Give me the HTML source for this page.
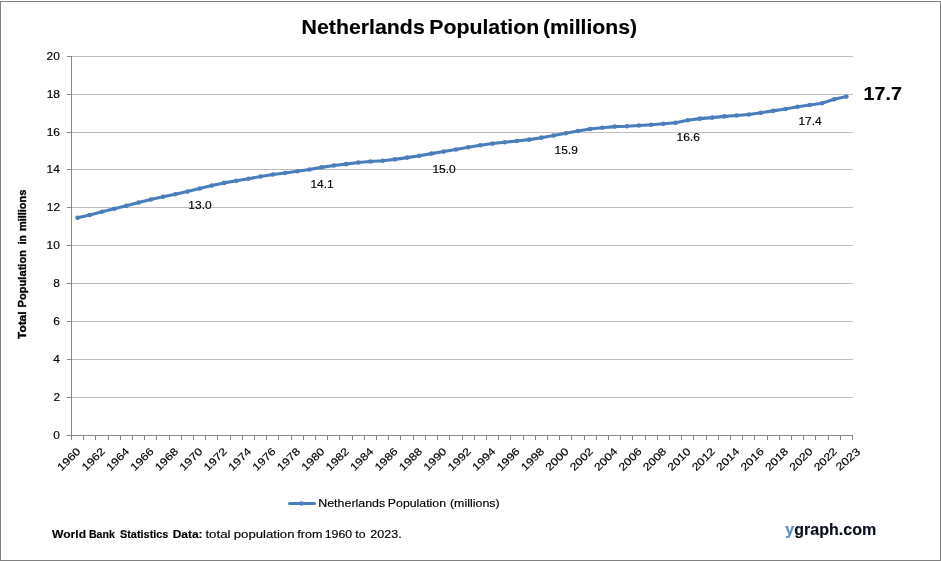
<!DOCTYPE html>
<html><head><meta charset="utf-8"><title>Netherlands Population (millions)</title>
<style>
html,body{margin:0;padding:0;background:#fff;}
body{width:941px;height:561px;overflow:hidden;font-family:"Liberation Sans",sans-serif;}
svg{display:block;will-change:transform;}
text{font-family:"Liberation Sans",sans-serif;fill:#000000;stroke:#000000;stroke-width:0.15px;}
.b{font-weight:bold;}
</style></head><body>
<svg width="941" height="561" viewBox="0 0 941 561">
<rect x="0" y="0" width="941" height="561" fill="#ffffff"/>
<rect x="0.5" y="1.5" width="940" height="559" fill="none" stroke="#808080" stroke-width="1"/>

<rect x="72" y="397" width="781" height="1" fill="#bdbdbd"/>
<rect x="72" y="359" width="781" height="1" fill="#bdbdbd"/>
<rect x="72" y="321" width="781" height="1" fill="#bdbdbd"/>
<rect x="72" y="283" width="781" height="1" fill="#bdbdbd"/>
<rect x="72" y="245" width="781" height="1" fill="#bdbdbd"/>
<rect x="72" y="207" width="781" height="1" fill="#bdbdbd"/>
<rect x="72" y="169" width="781" height="1" fill="#bdbdbd"/>
<rect x="72" y="132" width="781" height="1" fill="#bdbdbd"/>
<rect x="72" y="94" width="781" height="1" fill="#bdbdbd"/>
<rect x="72" y="56" width="781" height="1" fill="#bdbdbd"/>
<rect x="71" y="56" width="1" height="384" fill="#868686"/>
<rect x="67" y="435" width="786" height="1" fill="#868686"/>
<rect x="67" y="435" width="5" height="1" fill="#868686"/>
<text transform="translate(53.27,439.10) scale(1.1300,1)" font-size="10.6">0</text>
<rect x="67" y="397" width="5" height="1" fill="#868686"/>
<text transform="translate(53.45,401.10) scale(1.1300,1)" font-size="10.6">2</text>
<rect x="67" y="359" width="5" height="1" fill="#868686"/>
<text transform="translate(53.21,363.10) scale(1.1300,1)" font-size="10.6">4</text>
<rect x="67" y="321" width="5" height="1" fill="#868686"/>
<text transform="translate(53.33,325.10) scale(1.1300,1)" font-size="10.6">6</text>
<rect x="67" y="283" width="5" height="1" fill="#868686"/>
<text transform="translate(53.33,287.10) scale(1.1300,1)" font-size="10.6">8</text>
<rect x="67" y="245" width="5" height="1" fill="#868686"/>
<text transform="translate(46.62,249.10) scale(1.1300,1)" font-size="10.6">10</text>
<rect x="67" y="207" width="5" height="1" fill="#868686"/>
<text transform="translate(46.80,211.10) scale(1.1300,1)" font-size="10.6">12</text>
<rect x="67" y="169" width="5" height="1" fill="#868686"/>
<text transform="translate(46.56,173.10) scale(1.1300,1)" font-size="10.6">14</text>
<rect x="67" y="132" width="5" height="1" fill="#868686"/>
<text transform="translate(46.68,136.10) scale(1.1300,1)" font-size="10.6">16</text>
<rect x="67" y="94" width="5" height="1" fill="#868686"/>
<text transform="translate(46.68,98.10) scale(1.1300,1)" font-size="10.6">18</text>
<rect x="67" y="56" width="5" height="1" fill="#868686"/>
<text transform="translate(46.62,60.10) scale(1.1300,1)" font-size="10.6">20</text>
<rect x="83" y="435" width="1" height="5" fill="#868686"/>
<rect x="95" y="435" width="1" height="5" fill="#868686"/>
<rect x="108" y="435" width="1" height="5" fill="#868686"/>
<rect x="120" y="435" width="1" height="5" fill="#868686"/>
<rect x="132" y="435" width="1" height="5" fill="#868686"/>
<rect x="144" y="435" width="1" height="5" fill="#868686"/>
<rect x="156" y="435" width="1" height="5" fill="#868686"/>
<rect x="169" y="435" width="1" height="5" fill="#868686"/>
<rect x="181" y="435" width="1" height="5" fill="#868686"/>
<rect x="193" y="435" width="1" height="5" fill="#868686"/>
<rect x="205" y="435" width="1" height="5" fill="#868686"/>
<rect x="217" y="435" width="1" height="5" fill="#868686"/>
<rect x="230" y="435" width="1" height="5" fill="#868686"/>
<rect x="242" y="435" width="1" height="5" fill="#868686"/>
<rect x="254" y="435" width="1" height="5" fill="#868686"/>
<rect x="266" y="435" width="1" height="5" fill="#868686"/>
<rect x="278" y="435" width="1" height="5" fill="#868686"/>
<rect x="291" y="435" width="1" height="5" fill="#868686"/>
<rect x="303" y="435" width="1" height="5" fill="#868686"/>
<rect x="315" y="435" width="1" height="5" fill="#868686"/>
<rect x="327" y="435" width="1" height="5" fill="#868686"/>
<rect x="339" y="435" width="1" height="5" fill="#868686"/>
<rect x="352" y="435" width="1" height="5" fill="#868686"/>
<rect x="364" y="435" width="1" height="5" fill="#868686"/>
<rect x="376" y="435" width="1" height="5" fill="#868686"/>
<rect x="388" y="435" width="1" height="5" fill="#868686"/>
<rect x="400" y="435" width="1" height="5" fill="#868686"/>
<rect x="413" y="435" width="1" height="5" fill="#868686"/>
<rect x="425" y="435" width="1" height="5" fill="#868686"/>
<rect x="437" y="435" width="1" height="5" fill="#868686"/>
<rect x="449" y="435" width="1" height="5" fill="#868686"/>
<rect x="462" y="435" width="1" height="5" fill="#868686"/>
<rect x="474" y="435" width="1" height="5" fill="#868686"/>
<rect x="486" y="435" width="1" height="5" fill="#868686"/>
<rect x="498" y="435" width="1" height="5" fill="#868686"/>
<rect x="510" y="435" width="1" height="5" fill="#868686"/>
<rect x="523" y="435" width="1" height="5" fill="#868686"/>
<rect x="535" y="435" width="1" height="5" fill="#868686"/>
<rect x="547" y="435" width="1" height="5" fill="#868686"/>
<rect x="559" y="435" width="1" height="5" fill="#868686"/>
<rect x="571" y="435" width="1" height="5" fill="#868686"/>
<rect x="584" y="435" width="1" height="5" fill="#868686"/>
<rect x="596" y="435" width="1" height="5" fill="#868686"/>
<rect x="608" y="435" width="1" height="5" fill="#868686"/>
<rect x="620" y="435" width="1" height="5" fill="#868686"/>
<rect x="632" y="435" width="1" height="5" fill="#868686"/>
<rect x="645" y="435" width="1" height="5" fill="#868686"/>
<rect x="657" y="435" width="1" height="5" fill="#868686"/>
<rect x="669" y="435" width="1" height="5" fill="#868686"/>
<rect x="681" y="435" width="1" height="5" fill="#868686"/>
<rect x="693" y="435" width="1" height="5" fill="#868686"/>
<rect x="706" y="435" width="1" height="5" fill="#868686"/>
<rect x="718" y="435" width="1" height="5" fill="#868686"/>
<rect x="730" y="435" width="1" height="5" fill="#868686"/>
<rect x="742" y="435" width="1" height="5" fill="#868686"/>
<rect x="754" y="435" width="1" height="5" fill="#868686"/>
<rect x="767" y="435" width="1" height="5" fill="#868686"/>
<rect x="779" y="435" width="1" height="5" fill="#868686"/>
<rect x="791" y="435" width="1" height="5" fill="#868686"/>
<rect x="803" y="435" width="1" height="5" fill="#868686"/>
<rect x="815" y="435" width="1" height="5" fill="#868686"/>
<rect x="828" y="435" width="1" height="5" fill="#868686"/>
<rect x="840" y="435" width="1" height="5" fill="#868686"/>
<rect x="852" y="435" width="1" height="5" fill="#868686"/>
<text transform="translate(61.60,471.60) rotate(-45) scale(1.1747,1)" font-size="10.6">1960</text>
<text transform="translate(86.01,471.60) rotate(-45) scale(1.1747,1)" font-size="10.6">1962</text>
<text transform="translate(110.41,471.60) rotate(-45) scale(1.1747,1)" font-size="10.6">1964</text>
<text transform="translate(134.82,471.60) rotate(-45) scale(1.1747,1)" font-size="10.6">1966</text>
<text transform="translate(159.23,471.60) rotate(-45) scale(1.1747,1)" font-size="10.6">1968</text>
<text transform="translate(183.63,471.60) rotate(-45) scale(1.1747,1)" font-size="10.6">1970</text>
<text transform="translate(208.04,471.60) rotate(-45) scale(1.1747,1)" font-size="10.6">1972</text>
<text transform="translate(232.45,471.60) rotate(-45) scale(1.1747,1)" font-size="10.6">1974</text>
<text transform="translate(256.85,471.60) rotate(-45) scale(1.1747,1)" font-size="10.6">1976</text>
<text transform="translate(281.26,471.60) rotate(-45) scale(1.1747,1)" font-size="10.6">1978</text>
<text transform="translate(305.66,471.60) rotate(-45) scale(1.1747,1)" font-size="10.6">1980</text>
<text transform="translate(330.07,471.60) rotate(-45) scale(1.1747,1)" font-size="10.6">1982</text>
<text transform="translate(354.48,471.60) rotate(-45) scale(1.1747,1)" font-size="10.6">1984</text>
<text transform="translate(378.88,471.60) rotate(-45) scale(1.1747,1)" font-size="10.6">1986</text>
<text transform="translate(403.29,471.60) rotate(-45) scale(1.1747,1)" font-size="10.6">1988</text>
<text transform="translate(427.70,471.60) rotate(-45) scale(1.1747,1)" font-size="10.6">1990</text>
<text transform="translate(452.10,471.60) rotate(-45) scale(1.1747,1)" font-size="10.6">1992</text>
<text transform="translate(476.51,471.60) rotate(-45) scale(1.1747,1)" font-size="10.6">1994</text>
<text transform="translate(500.91,471.60) rotate(-45) scale(1.1747,1)" font-size="10.6">1996</text>
<text transform="translate(525.32,471.60) rotate(-45) scale(1.1747,1)" font-size="10.6">1998</text>
<text transform="translate(549.73,471.60) rotate(-45) scale(1.1747,1)" font-size="10.6">2000</text>
<text transform="translate(574.13,471.60) rotate(-45) scale(1.1747,1)" font-size="10.6">2002</text>
<text transform="translate(598.54,471.60) rotate(-45) scale(1.1747,1)" font-size="10.6">2004</text>
<text transform="translate(622.95,471.60) rotate(-45) scale(1.1747,1)" font-size="10.6">2006</text>
<text transform="translate(647.35,471.60) rotate(-45) scale(1.1747,1)" font-size="10.6">2008</text>
<text transform="translate(671.76,471.60) rotate(-45) scale(1.1747,1)" font-size="10.6">2010</text>
<text transform="translate(696.16,471.60) rotate(-45) scale(1.1747,1)" font-size="10.6">2012</text>
<text transform="translate(720.57,471.60) rotate(-45) scale(1.1747,1)" font-size="10.6">2014</text>
<text transform="translate(744.98,471.60) rotate(-45) scale(1.1747,1)" font-size="10.6">2016</text>
<text transform="translate(769.38,471.60) rotate(-45) scale(1.1747,1)" font-size="10.6">2018</text>
<text transform="translate(793.79,471.60) rotate(-45) scale(1.1747,1)" font-size="10.6">2020</text>
<text transform="translate(818.20,471.60) rotate(-45) scale(1.1747,1)" font-size="10.6">2022</text>
<text transform="translate(839.70,471.30) rotate(-41) scale(1.1652,1)" font-size="10.918">2023</text>
<polyline points="77.60,217.82 89.80,214.94 102.01,211.78 114.21,208.74 126.41,205.69 138.62,202.51 150.82,199.46 163.02,196.79 175.23,194.27 187.43,191.46 199.63,188.54 211.84,185.47 224.04,182.90 236.24,180.83 248.45,178.82 260.65,176.53 272.85,174.48 285.05,172.93 297.26,171.30 309.46,169.48 321.66,167.36 333.87,165.46 346.07,164.14 358.27,162.53 370.48,161.48 382.68,160.73 394.88,159.36 407.09,157.60 419.29,155.70 431.49,153.62 443.70,151.59 455.90,149.45 468.10,147.31 480.30,145.32 492.51,143.58 504.71,142.19 516.91,141.02 529.12,139.60 541.32,137.66 553.52,135.56 565.73,133.29 577.93,131.01 590.13,129.04 602.34,127.79 614.54,126.62 626.74,126.24 638.95,125.48 651.15,124.72 663.35,123.77 675.55,122.73 687.76,120.27 699.96,118.66 712.16,117.61 724.37,116.38 736.57,115.53 748.77,114.49 760.98,112.69 773.18,110.87 785.38,108.95 797.59,106.81 809.79,104.97 821.99,103.25 834.20,99.23 846.40,96.58" fill="none" stroke="#4a7ebb" stroke-width="3.1" stroke-linejoin="round" stroke-linecap="round"/>
<circle cx="77.60" cy="217.82" r="2.3" fill="#4a7ebb"/>
<circle cx="89.80" cy="214.94" r="2.3" fill="#4a7ebb"/>
<circle cx="102.01" cy="211.78" r="2.3" fill="#4a7ebb"/>
<circle cx="114.21" cy="208.74" r="2.3" fill="#4a7ebb"/>
<circle cx="126.41" cy="205.69" r="2.3" fill="#4a7ebb"/>
<circle cx="138.62" cy="202.51" r="2.3" fill="#4a7ebb"/>
<circle cx="150.82" cy="199.46" r="2.3" fill="#4a7ebb"/>
<circle cx="163.02" cy="196.79" r="2.3" fill="#4a7ebb"/>
<circle cx="175.23" cy="194.27" r="2.3" fill="#4a7ebb"/>
<circle cx="187.43" cy="191.46" r="2.3" fill="#4a7ebb"/>
<circle cx="199.63" cy="188.54" r="2.3" fill="#4a7ebb"/>
<circle cx="211.84" cy="185.47" r="2.3" fill="#4a7ebb"/>
<circle cx="224.04" cy="182.90" r="2.3" fill="#4a7ebb"/>
<circle cx="236.24" cy="180.83" r="2.3" fill="#4a7ebb"/>
<circle cx="248.45" cy="178.82" r="2.3" fill="#4a7ebb"/>
<circle cx="260.65" cy="176.53" r="2.3" fill="#4a7ebb"/>
<circle cx="272.85" cy="174.48" r="2.3" fill="#4a7ebb"/>
<circle cx="285.05" cy="172.93" r="2.3" fill="#4a7ebb"/>
<circle cx="297.26" cy="171.30" r="2.3" fill="#4a7ebb"/>
<circle cx="309.46" cy="169.48" r="2.3" fill="#4a7ebb"/>
<circle cx="321.66" cy="167.36" r="2.3" fill="#4a7ebb"/>
<circle cx="333.87" cy="165.46" r="2.3" fill="#4a7ebb"/>
<circle cx="346.07" cy="164.14" r="2.3" fill="#4a7ebb"/>
<circle cx="358.27" cy="162.53" r="2.3" fill="#4a7ebb"/>
<circle cx="370.48" cy="161.48" r="2.3" fill="#4a7ebb"/>
<circle cx="382.68" cy="160.73" r="2.3" fill="#4a7ebb"/>
<circle cx="394.88" cy="159.36" r="2.3" fill="#4a7ebb"/>
<circle cx="407.09" cy="157.60" r="2.3" fill="#4a7ebb"/>
<circle cx="419.29" cy="155.70" r="2.3" fill="#4a7ebb"/>
<circle cx="431.49" cy="153.62" r="2.3" fill="#4a7ebb"/>
<circle cx="443.70" cy="151.59" r="2.3" fill="#4a7ebb"/>
<circle cx="455.90" cy="149.45" r="2.3" fill="#4a7ebb"/>
<circle cx="468.10" cy="147.31" r="2.3" fill="#4a7ebb"/>
<circle cx="480.30" cy="145.32" r="2.3" fill="#4a7ebb"/>
<circle cx="492.51" cy="143.58" r="2.3" fill="#4a7ebb"/>
<circle cx="504.71" cy="142.19" r="2.3" fill="#4a7ebb"/>
<circle cx="516.91" cy="141.02" r="2.3" fill="#4a7ebb"/>
<circle cx="529.12" cy="139.60" r="2.3" fill="#4a7ebb"/>
<circle cx="541.32" cy="137.66" r="2.3" fill="#4a7ebb"/>
<circle cx="553.52" cy="135.56" r="2.3" fill="#4a7ebb"/>
<circle cx="565.73" cy="133.29" r="2.3" fill="#4a7ebb"/>
<circle cx="577.93" cy="131.01" r="2.3" fill="#4a7ebb"/>
<circle cx="590.13" cy="129.04" r="2.3" fill="#4a7ebb"/>
<circle cx="602.34" cy="127.79" r="2.3" fill="#4a7ebb"/>
<circle cx="614.54" cy="126.62" r="2.3" fill="#4a7ebb"/>
<circle cx="626.74" cy="126.24" r="2.3" fill="#4a7ebb"/>
<circle cx="638.95" cy="125.48" r="2.3" fill="#4a7ebb"/>
<circle cx="651.15" cy="124.72" r="2.3" fill="#4a7ebb"/>
<circle cx="663.35" cy="123.77" r="2.3" fill="#4a7ebb"/>
<circle cx="675.55" cy="122.73" r="2.3" fill="#4a7ebb"/>
<circle cx="687.76" cy="120.27" r="2.3" fill="#4a7ebb"/>
<circle cx="699.96" cy="118.66" r="2.3" fill="#4a7ebb"/>
<circle cx="712.16" cy="117.61" r="2.3" fill="#4a7ebb"/>
<circle cx="724.37" cy="116.38" r="2.3" fill="#4a7ebb"/>
<circle cx="736.57" cy="115.53" r="2.3" fill="#4a7ebb"/>
<circle cx="748.77" cy="114.49" r="2.3" fill="#4a7ebb"/>
<circle cx="760.98" cy="112.69" r="2.3" fill="#4a7ebb"/>
<circle cx="773.18" cy="110.87" r="2.3" fill="#4a7ebb"/>
<circle cx="785.38" cy="108.95" r="2.3" fill="#4a7ebb"/>
<circle cx="797.59" cy="106.81" r="2.3" fill="#4a7ebb"/>
<circle cx="809.79" cy="104.97" r="2.3" fill="#4a7ebb"/>
<circle cx="821.99" cy="103.25" r="2.3" fill="#4a7ebb"/>
<circle cx="834.20" cy="99.23" r="2.3" fill="#4a7ebb"/>
<circle cx="846.40" cy="96.58" r="2.3" fill="#4a7ebb"/>
<text transform="translate(188.34,209.04) scale(1.1300,1)" font-size="10.6">13.0</text>
<text transform="translate(310.44,187.86) scale(1.1300,1)" font-size="10.6">14.1</text>
<text transform="translate(432.41,172.66) scale(1.1300,1)" font-size="10.6">15.0</text>
<text transform="translate(554.50,154.20) scale(1.1300,1)" font-size="10.6">15.9</text>
<text transform="translate(676.50,140.96) scale(1.1300,1)" font-size="10.6">16.6</text>
<text transform="translate(798.47,125.47) scale(1.1300,1)" font-size="10.6">17.4</text>
<text class="b" transform="translate(301.61,33.6) scale(1.0555,1)" font-size="20.2">Netherlands</text>
<text class="b" transform="translate(429.21,33.6) scale(1.0549,1)" font-size="20.2">Population</text>
<text class="b" transform="translate(542.94,33.6) scale(1.0482,1)" font-size="20.2">(millions)</text>
<text class="b" transform="translate(863.62,100.0) scale(1.0900,1)" font-size="18.1">17.7</text>
<line x1="289.5" y1="503.5" x2="314.5" y2="503.5" stroke="#4a7ebb" stroke-width="3" stroke-linecap="round"/>
<circle cx="301.6" cy="503.5" r="2.3" fill="#4a7ebb"/>
<text  transform="translate(318.21,507.3) scale(1.1409,1)" font-size="10.9">Netherlands</text>
<text  transform="translate(387.81,507.3) scale(1.1318,1)" font-size="10.9">Population</text>
<text  transform="translate(449.95,507.3) scale(1.1435,1)" font-size="10.9">(millions)</text>
<text class="b" transform="translate(52.10,537.9) scale(1.1178,1)" font-size="10.8">World</text>
<text class="b" transform="translate(89.01,537.9) scale(0.9765,1)" font-size="10.8">Bank</text>
<text class="b" transform="translate(119.97,537.9) scale(1.0095,1)" font-size="10.8">Statistics</text>
<text class="b" transform="translate(172.72,537.9) scale(1.1079,1)" font-size="10.8">Data:</text>
<text  transform="translate(205.40,537.9) scale(1.2329,1)" font-size="10.8">total</text>
<text  transform="translate(233.74,537.9) scale(1.2201,1)" font-size="10.8">population</text>
<text  transform="translate(297.31,537.9) scale(1.1622,1)" font-size="10.8">from</text>
<text  transform="translate(324.67,537.9) scale(1.1426,1)" font-size="10.8">1960</text>
<text  transform="translate(355.32,537.9) scale(1.1396,1)" font-size="10.8">to</text>
<text  transform="translate(370.27,537.9) scale(1.1653,1)" font-size="10.8">2023.</text>
<text class="b" transform="translate(785.3,534.7) scale(1.0292,1)" font-size="15.6"><tspan fill="#5b8bc9" stroke="#5b8bc9">y</tspan><tspan fill="#0a0f1e" stroke="#0a0f1e">graph.com</tspan></text>
<text class="b" style="stroke-width:0.35px" transform="translate(26.1,338.92) rotate(-90) scale(1.0401,1)" font-size="11.4">Total</text>
<text class="b" style="stroke-width:0.35px" transform="translate(26.1,307.42) rotate(-90) scale(0.9764,1)" font-size="11.4">Population</text>
<text class="b" style="stroke-width:0.35px" transform="translate(26.1,244.33) rotate(-90) scale(0.9118,1)" font-size="11.4">in</text>
<text class="b" style="stroke-width:0.35px" transform="translate(26.1,231.12) rotate(-90) scale(0.9656,1)" font-size="11.4">millions</text>
</svg></body></html>
